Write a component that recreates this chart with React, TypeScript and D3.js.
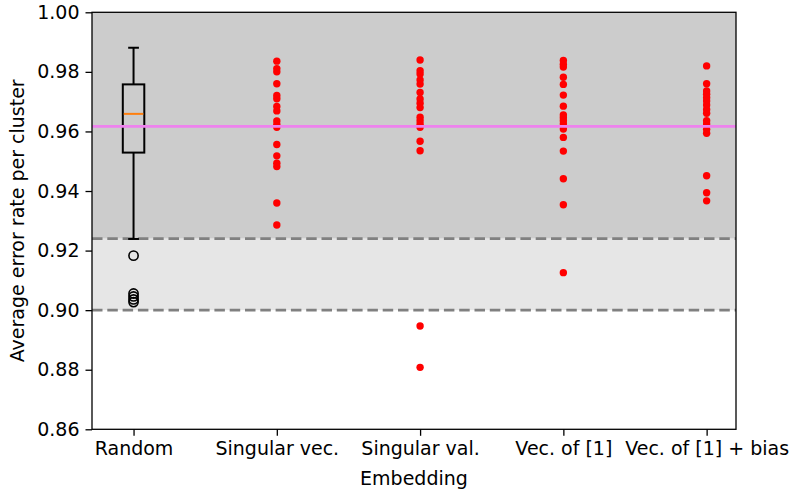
import React, { useEffect, useRef } from 'react';
import * as d3 from 'd3';

const categories = ['Random', 'Singular vec.', 'Singular val.', 'Vec. of [1]', 'Vec. of [1] + bias'];

// Random embedding summarised as a box plot
const randomQuartiles = [0.9529, 0.9659, 0.9758];
const randomWhiskers = [0.9239, 0.9881];
const randomFliers = [0.9183, 0.9056, 0.9046, 0.9036, 0.9027];

const singularVec = [0.9836, 0.9811, 0.98, 0.976, 0.9721, 0.971, 0.9684, 0.9669, 0.9635, 0.9623, 0.9614, 0.9556, 0.9518, 0.9493, 0.9482, 0.936, 0.9286];
const singularVal = [0.984, 0.9804, 0.9793, 0.9773, 0.9759, 0.9731, 0.9709, 0.9695, 0.968, 0.9648, 0.9636, 0.9624, 0.9614, 0.9567, 0.9535, 0.8947, 0.8808];
const vecOfOnes = [0.9838, 0.9826, 0.9816, 0.9782, 0.9758, 0.9722, 0.9685, 0.9655, 0.9646, 0.9636, 0.9625, 0.9608, 0.958, 0.9534, 0.9441, 0.9354, 0.9126];
const vecOfOnesBias = [0.982, 0.976, 0.9736, 0.9725, 0.9713, 0.9702, 0.9689, 0.9674, 0.9661, 0.9636, 0.9625, 0.9607, 0.9594, 0.9451, 0.9394, 0.9367];

const pointSeries = [singularVec, singularVal, vecOfOnes, vecOfOnesBias];

const yTicks = [0.86, 0.88, 0.9, 0.92, 0.94, 0.96, 0.98, 1.0];
const bandLines = [0.9, 0.924];
const referenceLine = 0.9617;

const W = 793;
const H = 491;
const FONT = '"DejaVu Sans", sans-serif';
const FONT_SIZE = '19px';

const App: React.FC = () => {
  const svgRef = useRef<SVGSVGElement>(null);

  useEffect(() => {
    if (!svgRef.current) return;
    const svg = d3.select(svgRef.current);
    svg.selectAll('*').remove();

    const left = 92, right = 736, top = 12.3, bottom = 429.3;

    const x = d3.scaleLinear().domain([0.71, 5.205]).range([left, right]);
    const y = d3.scaleLinear().domain([0.86, 1.0]).range([bottom, top]);

    // shaded regions
    svg.append('rect')
      .attr('x', left).attr('width', right - left)
      .attr('y', y(1.0)).attr('height', y(bandLines[1]) - y(1.0))
      .attr('fill', '#cccccc');
    svg.append('rect')
      .attr('x', left).attr('width', right - left)
      .attr('y', y(bandLines[1])).attr('height', y(bandLines[0]) - y(bandLines[1]))
      .attr('fill', '#e6e6e6');

    // dashed thresholds
    svg.selectAll('line.band')
      .data(bandLines)
      .enter()
      .append('line')
      .attr('class', 'band')
      .attr('x1', left).attr('x2', right)
      .attr('y1', d => y(d)).attr('y2', d => y(d))
      .attr('stroke', '#808080')
      .attr('stroke-width', 2.6)
      .attr('stroke-dasharray', '10.5,4.8');

    // box plot for Random
    const bx = x(1);
    const halfW = (x(1.075) - x(1));
    const capW = halfW / 2;
    const box = svg.append('g').attr('stroke', '#000').attr('stroke-width', 2).attr('fill', 'none');
    box.append('line').attr('x1', bx).attr('x2', bx).attr('y1', y(randomQuartiles[2])).attr('y2', y(randomWhiskers[1]));
    box.append('line').attr('x1', bx).attr('x2', bx).attr('y1', y(randomQuartiles[0])).attr('y2', y(randomWhiskers[0]));
    randomWhiskers.forEach(w => {
      box.append('line').attr('x1', bx - capW).attr('x2', bx + capW).attr('y1', y(w)).attr('y2', y(w));
    });
    box.append('rect')
      .attr('x', bx - halfW).attr('width', halfW * 2)
      .attr('y', y(randomQuartiles[2])).attr('height', y(randomQuartiles[0]) - y(randomQuartiles[2]));
    box.append('line')
      .attr('x1', bx - halfW + 1).attr('x2', bx + halfW - 1)
      .attr('y1', y(randomQuartiles[1])).attr('y2', y(randomQuartiles[1]))
      .attr('stroke', '#ff7f0e');
    box.selectAll('circle')
      .data(randomFliers)
      .enter()
      .append('circle')
      .attr('cx', bx).attr('cy', d => y(d)).attr('r', 4.6)
      .attr('stroke-width', 1.6);

    // red points
    pointSeries.forEach((vals, i) => {
      svg.append('g')
        .selectAll('circle')
        .data(vals)
        .enter()
        .append('circle')
        .attr('cx', x(i + 2))
        .attr('cy', d => y(d))
        .attr('r', 3.7)
        .attr('fill', '#ff0000');
    });

    // reference line
    svg.append('line')
      .attr('x1', left).attr('x2', right)
      .attr('y1', y(referenceLine)).attr('y2', y(referenceLine))
      .attr('stroke', '#ee82ee')
      .attr('stroke-width', 2.6);

    // axes
    const yAxis = svg.append('g')
      .attr('transform', `translate(${left},0)`)
      .call(d3.axisLeft(y).tickValues(yTicks).tickFormat(d3.format('.2f')).tickSize(6.5).tickPadding(6));
    yAxis.select('.domain').remove();
    yAxis.selectAll('line').attr('stroke', '#000').attr('stroke-width', 1.3);
    yAxis.selectAll('text').attr('fill', '#000').style('font-family', FONT).style('font-size', FONT_SIZE);

    const xAxis = svg.append('g')
      .attr('transform', `translate(0,${bottom})`)
      .call(d3.axisBottom(x).tickValues([1, 2, 3, 4, 5]).tickFormat((d) => categories[+d - 1]).tickSize(6.5).tickPadding(6));
    xAxis.select('.domain').remove();
    xAxis.selectAll('line').attr('stroke', '#000').attr('stroke-width', 1.3);
    xAxis.selectAll('text').attr('fill', '#000').style('font-family', FONT).style('font-size', FONT_SIZE);

    // spines
    svg.append('rect')
      .attr('x', left).attr('y', top)
      .attr('width', right - left).attr('height', bottom - top)
      .attr('fill', 'none').attr('stroke', '#000').attr('stroke-width', 1.3);

    // labels
    svg.append('text')
      .attr('x', (left + right) / 2)
      .attr('y', 485)
      .attr('text-anchor', 'middle')
      .style('font-family', FONT).style('font-size', FONT_SIZE)
      .text('Embedding');

    svg.append('text')
      .attr('transform', 'rotate(-90)')
      .attr('x', -(top + bottom) / 2)
      .attr('y', 24)
      .attr('text-anchor', 'middle')
      .style('font-family', FONT).style('font-size', FONT_SIZE)
      .text('Average error rate per cluster');
  }, []);

  return (
    <div style={{ position: 'fixed', left: 0, top: 0 }}>
      <svg ref={svgRef} width={W} height={H} style={{ display: 'block', background: '#fff' }} />
    </div>
  );
};

export default App;
